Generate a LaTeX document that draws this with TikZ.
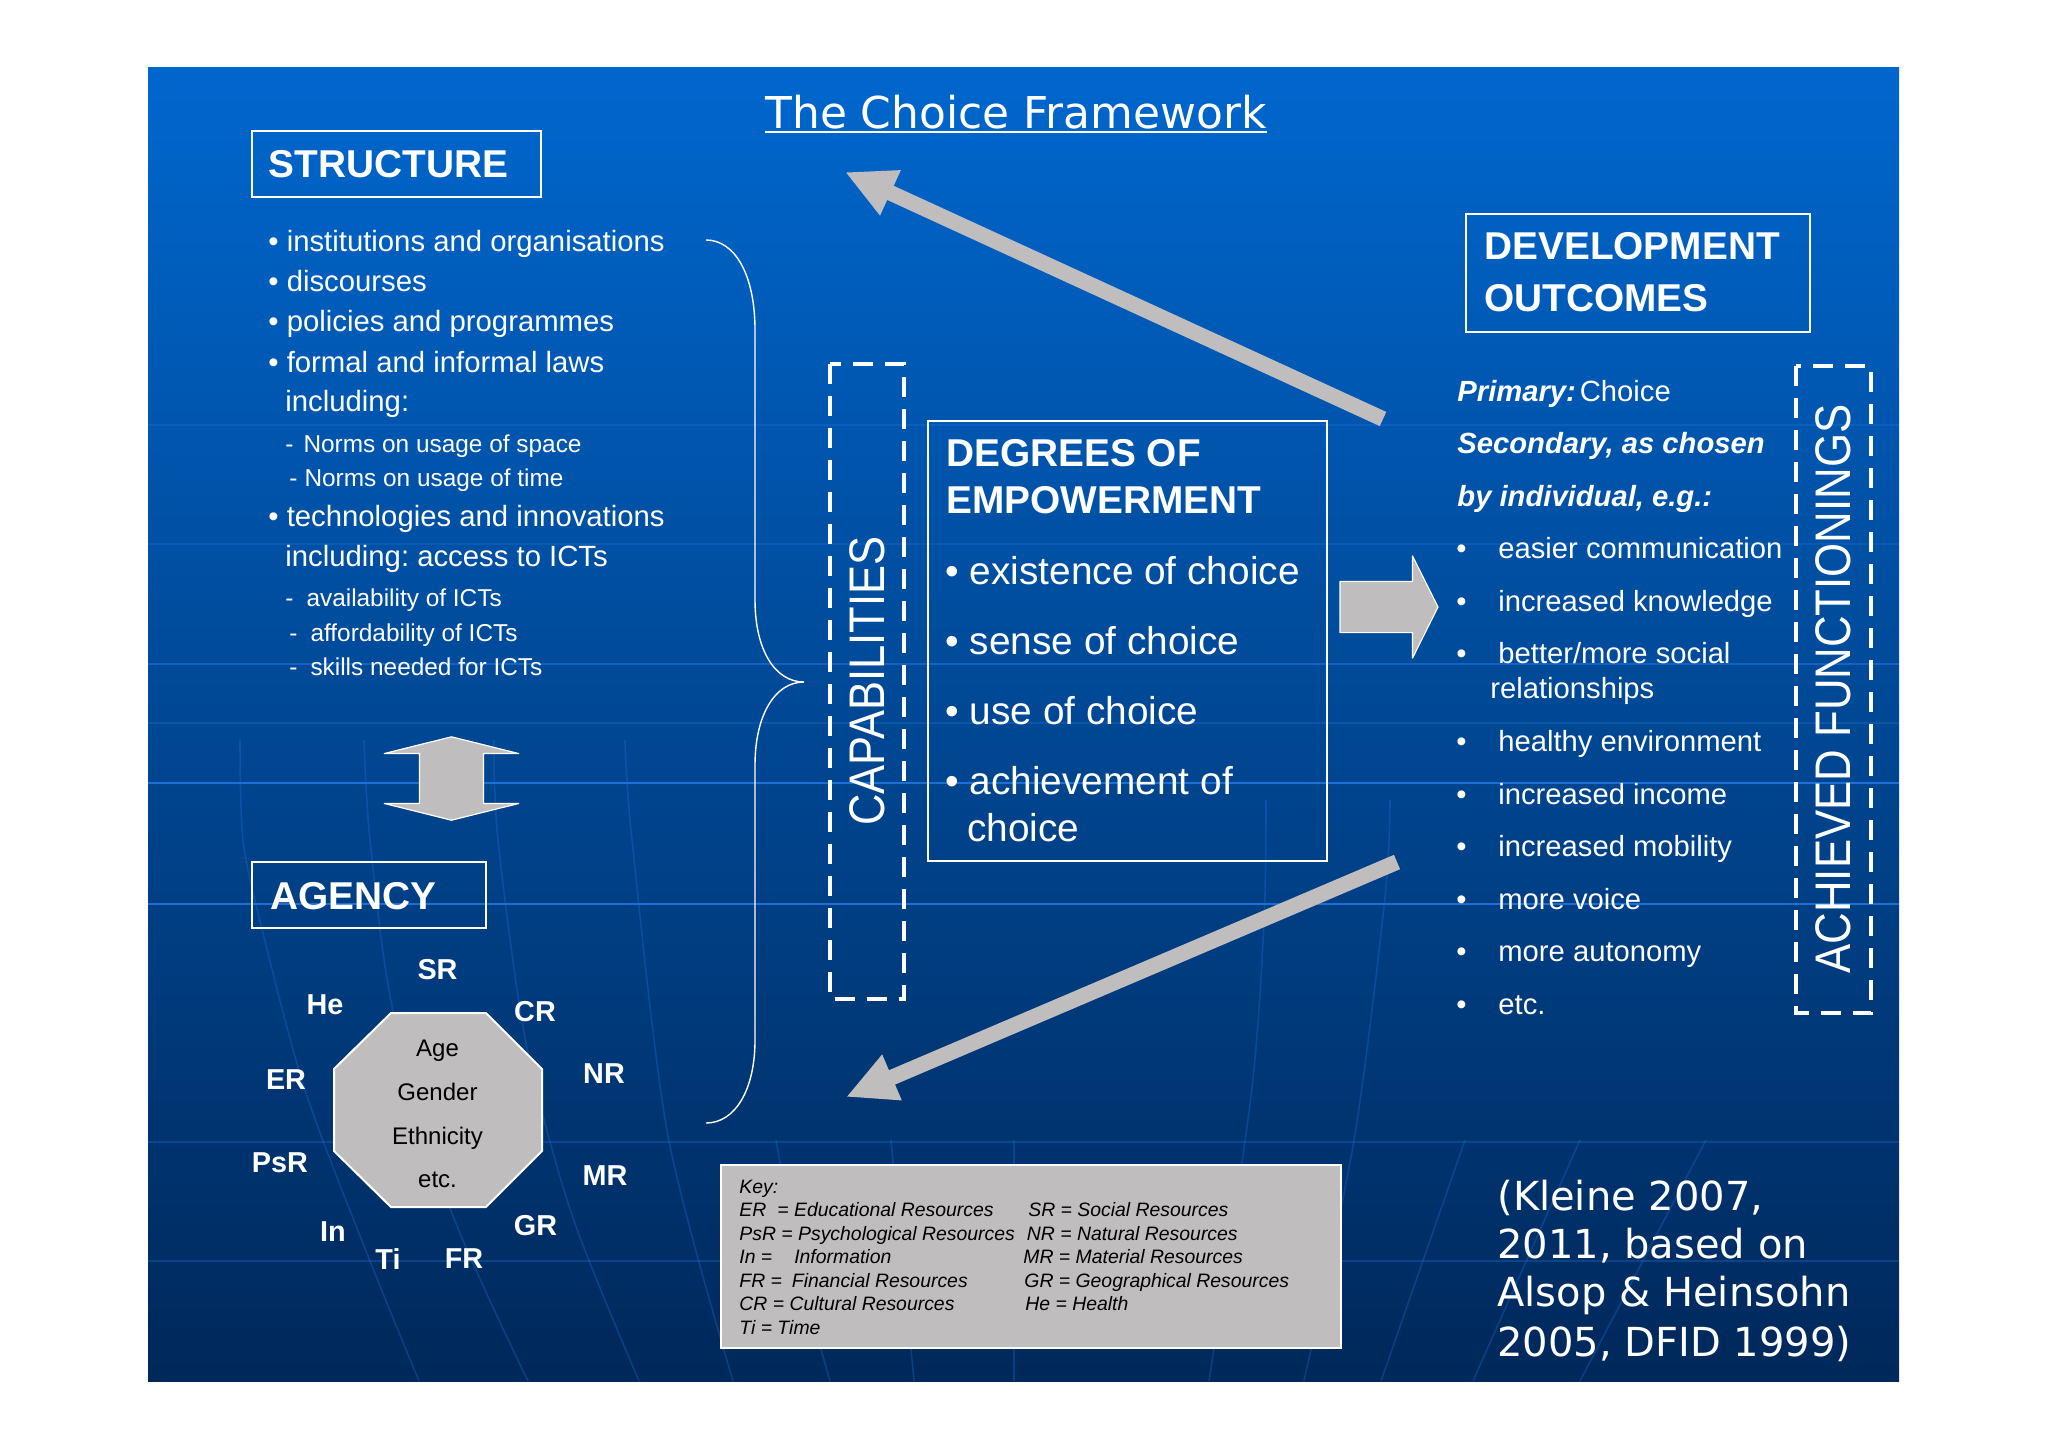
\documentclass[tikz,border=0pt]{standalone}
\usepackage{fontspec}
\setmainfont{Liberation Sans}
\newfontfamily\citefont{DejaVu Sans}
\usetikzlibrary{arrows.meta}
\usetikzlibrary{shapes.arrows}
\definecolor{panelgrey}{HTML}{BFBDBE}
\definecolor{paneltop}{HTML}{0067CE}
\definecolor{panelmid}{HTML}{00509F}
\definecolor{panelbottom}{HTML}{00285A}
\definecolor{gridblue}{HTML}{1F74E0}
\newcommand{\listbullet}{\makebox[21pt][l]{•}}
\frenchspacing

\begin{document}
\begin{tikzpicture}[x=0.5pt,y=-0.5pt]
	%\draw[help lines] (0,0) grid (2048,1447);
	
	\tikzstyle{headbox} = [draw=white,line width=1pt,minimum width=0pt]
	\tikzstyle{headtext} = [anchor=base west,text=white,inner sep=0pt,font=\fontsize{19.4}{23}\selectfont\bfseries]
	\tikzstyle{itemtext} = [anchor=base west,text=white,inner sep=0pt,font=\fontsize{14.65}{18}\selectfont]
	\tikzstyle{subtext} = [anchor=base west,text=white,inner sep=0pt,font=\fontsize{12.2}{15}\selectfont]
	\tikzstyle{degreetext} = [anchor=base west,text=white,inner sep=0pt,font=\fontsize{19.4}{23}\selectfont]
	\tikzstyle{resulttext} = [anchor=base west,text=white,inner sep=0pt,font=\fontsize{14.6}{18}\selectfont]
	\tikzstyle{resourcetext} = [text=white,inner sep=0pt,font=\fontsize{14.4}{17}\selectfont\bfseries]
	\tikzstyle{keytext} = [anchor=base west,text=black,inner sep=0pt,font=\fontsize{9.7}{12}\selectfont\itshape]
	\tikzstyle{sidetext} = [rotate=90,text=white,inner sep=0pt,font=\fontsize{25}{30}\selectfont]
	\tikzstyle{dashbox} = [draw=white,line width=2pt,dash pattern=on 10pt off 6pt]
	\tikzstyle{greyedge} = [draw=panelgrey,line width=7.8pt,-{Triangle[length=25pt,width=23pt]}]
	\tikzstyle{gridline} = [gridblue,line width=0.8pt,opacity=0.3]
	\tikzstyle{brightline} = [gridblue,line width=1.4pt,opacity=0.9]
	
	\useasboundingbox[fill=white] (0,0) rectangle (2048,1447);
	\shade[top color=paneltop,middle color=panelmid,bottom color=panelbottom] (148,67) rectangle (1899,1381);
	
	% lines of the backdrop
	\draw[gridline] (148,425) -- (1899,425);
	\draw[gridline] (148,544) -- (1899,544);
	\draw[gridline] (148,723) -- (1899,723);
	\draw[gridline] (148,1142) -- (1899,1142);
	\draw[gridline] (148,1261) -- (1899,1261);
	\draw[gridline,opacity=0.6] (148,664) -- (1899,664);
	\draw[brightline] (148,783) -- (1899,783);
	\draw[brightline] (148,904) -- (1899,904);
	\draw[gridline] plot[smooth] coordinates {(240,740) (243,840) (262,929) (305,1090) (366,1251) (419,1381)};
	\draw[gridline] plot[smooth] coordinates {(364,740) (370,840) (393,1011) (450,1208) (528,1381)};
	\draw[gridline] plot[smooth] coordinates {(494,740) (498,840) (526,1043) (572,1215) (639,1381)};
	\draw[gridline] plot[smooth] coordinates {(625,740) (632,840) (668,1136) (733,1381)};
	\draw[gridline] plot[smooth] coordinates {(776,1140) (800,1270) (830,1381)};
	\draw[gridline] plot[smooth] coordinates {(891,1140) (914,1381)};
	\draw[gridline] plot[smooth] coordinates {(1014,1140) (1014,1381)};
	\draw[gridline] plot[smooth] coordinates {(1266,800) (1264,922) (1251,1096) (1209,1381)};
	\draw[gridline] plot[smooth] coordinates {(1390,800) (1385,897) (1354,1140) (1304,1381)};
	\draw[gridline] plot[smooth] coordinates {(1465,1140) (1381,1381)};
	\draw[gridline] plot[smooth] coordinates {(1580,1140) (1473,1381)};
	\draw[gridline] plot[smooth] coordinates {(1706,1140) (1580,1381)};
	
	% title
	\node[anchor=base west,text=white,inner sep=0pt,font=\fontsize{21.95}{26}\selectfont\citefont] (title) at (765,128) {The Choice Framework};
	\draw[white,line width=1pt] ([yshift=-2.2pt]title.base west) -- ([yshift=-2.2pt]title.base east);
	
	% structure
	\draw[headbox] (252,131) rectangle (541,197);
	\node[headtext] (structure) at (268.5,177) {STRUCTURE};
	\node[itemtext] (item1) at (268,251) {• institutions and organisations};
	\node[itemtext] (item2) at (268,291.5) {• discourses};
	\node[itemtext] (item3) at (268,331.5) {• policies and programmes};
	\node[itemtext] (item4) at (268,372) {• formal and informal laws};
	\node[itemtext] (item5) at (285,411) {including:};
	\node[subtext] (norm1) at (285,452) {-\hspace{5pt}Norms on usage of space};
	\node[subtext] (norm2) at (289,486.5) {-\hspace{3.5pt}Norms on usage of time};
	\node[itemtext] (item6) at (268,526) {• technologies and innovations};
	\node[itemtext] (item7) at (285,566.5) {including: access to ICTs};
	\node[subtext] (ict1) at (285,606.5) {-\hspace{6.5pt}availability of ICTs};
	\node[subtext] (ict2) at (289,641) {-\hspace{6.5pt}affordability of ICTs};
	\node[subtext] (ict3) at (289,675) {-\hspace{6.5pt}skills needed for ICTs};
	
	\node[double arrow,rotate=90,draw=white,line width=0.6pt,line join=round,fill=panelgrey,inner xsep=0pt,inner ysep=15.7pt,minimum height=41.7pt,minimum width=66.5pt,double arrow head extend=17.6pt,double arrow tip angle=152] (linkarrow) at (451.5,778.5) {};
	
	% agency
	\draw[headbox] (252,862) rectangle (486,928);
	\node[headtext] (agency) at (270,909) {AGENCY};
	\node[resourcetext] (sr) at (437.5,970) {SR};
	\node[resourcetext] (he) at (325,1005) {He};
	\node[resourcetext] (cr) at (535,1012) {CR};
	\node[resourcetext] (nr) at (604,1074) {NR};
	\node[resourcetext] (er) at (286,1080) {ER};
	\node[resourcetext] (psr) at (280,1163) {PsR};
	\node[resourcetext] (mr) at (605,1176) {MR};
	\node[resourcetext] (gr) at (535.5,1226) {GR};
	\node[resourcetext] (in) at (333,1232) {In};
	\node[resourcetext] (ti) at (388,1259) {Ti};
	\node[resourcetext] (fr) at (464,1259) {FR};
	\draw[draw=white,line width=1pt,fill=panelgrey] (391,1013) -- (486,1013) -- (542,1069) -- (542,1151) -- (486,1207) -- (391,1207) -- (334,1151) -- (334,1069) -- cycle;
	\node[align=center,text=black,inner sep=0pt,font=\fontsize{12}{21.9}\selectfont] (profile) at (437.5,1114) {Age\\Gender\\Ethnicity\\etc.};
	
	% brace
	\draw[white,line width=0.7pt] (706,240) .. controls (735,240) and (755,275) .. (755,330) -- (755,600) .. controls (755,650) and (775,682) .. (804,682) .. controls (775,682) and (755,715) .. (755,765) -- (755,1040) .. controls (755,1090) and (735,1123) .. (706,1123);
	
	% capabilities
	\draw[dashbox] (829.5,364) rectangle (904,999);
	\node[sidetext] (capabilities) at (867,681) {\scalebox{0.87}[1]{CAPABILITIES}};
	\draw[headbox] (927.5,420.5) rectangle (1327,861);
	\node[headtext] (degrees) at (946,466) {DEGREES OF};
	\node[headtext] (empower) at (946,513) {EMPOWERMENT};
	\node[degreetext] (choice1) at (945,584) {• existence of choice};
	\node[degreetext] (choice2) at (945,654) {• sense of choice};
	\node[degreetext] (choice3) at (945,724) {• use of choice};
	\node[degreetext] (choice4) at (945,794) {• achievement of};
	\node[degreetext] (choice5) at (967,841) {choice};
	
	\node[single arrow,draw=white,line width=0.6pt,line join=round,fill=panelgrey,inner xsep=0pt,inner ysep=12.5pt,minimum height=49pt,minimum width=50pt,single arrow head extend=12.7pt,single arrow tip angle=127] (resultarrow) at (1389,607) [xshift=-3.2pt] {};
	
	% outcomes
	\draw[headbox] (1465.5,213.5) rectangle (1810,332);
	\node[headtext] (development) at (1484,259) {DEVELOPMENT};
	\node[headtext] (outcomes) at (1484,311) {OUTCOMES};
	\node[resulttext] (primary) at (1457,401) {\bfseries\itshape Primary:\hspace{2pt}\normalfont Choice};
	\node[resulttext] (secondary) at (1457,453) {\bfseries\itshape Secondary, as chosen};
	\node[resulttext] (individual) at (1457,506) {\bfseries\itshape by individual, e.g.:};
	\node[resulttext] (result1) at (1456,558.5) {\listbullet easier communication};
	\node[resulttext] (result2) at (1456,611) {\listbullet increased knowledge};
	\node[resulttext] (result3) at (1456,663) {\listbullet better/more social};
	\node[resulttext] (result4) at (1490,698) {relationships};
	\node[resulttext] (result5) at (1456,751.5) {\listbullet healthy environment};
	\node[resulttext] (result6) at (1456,804) {\listbullet increased income};
	\node[resulttext] (result7) at (1456,856) {\listbullet increased mobility};
	\node[resulttext] (result8) at (1456,909.5) {\listbullet more voice};
	\node[resulttext] (result9) at (1456,961.5) {\listbullet more autonomy};
	\node[resulttext] (result10) at (1456,1014) {\listbullet etc.};
	\draw[dashbox] (1796,365.5) rectangle (1871,1013);
	\node[sidetext] (functionings) at (1833,689) {\scalebox{0.875}[1]{ACHIEVED FUNCTIONINGS}};
	
	% big arrows
	\coordinate (outtop) at (1383,419);
	\coordinate (structtop) at (845,172);
	\coordinate (outbottom) at (1397,862);
	\coordinate (structbottom) at (846,1097);
	\draw[greyedge] (outtop) -- (structtop);
	\draw[greyedge] (outbottom) -- (structbottom);
	
	% key
	\draw[draw=white,line width=1pt,fill=panelgrey] (721,1165) rectangle (1341,1348);
	\node[keytext] (key) at (739,1193) {Key:};
	\node[keytext] (keyer) at (739,1216) {ER\hspace{5.5pt}= Educational Resources};
	\node[keytext] (keypsr) at (739,1240) {PsR = Psychological Resources};
	\node[keytext] (keyin) at (739,1263) {In =\hspace{11pt}Information};
	\node[keytext] (keyfr) at (739,1287) {FR =\hspace{5pt}Financial Resources};
	\node[keytext] (keycr) at (739,1310) {CR = Cultural Resources};
	\node[keytext] (keyti) at (739,1334) {Ti = Time};
	\node[keytext] (keysr) at (1028,1216) {SR = Social Resources};
	\node[keytext] (keynr) at (1026.5,1240) {NR = Natural Resources};
	\node[keytext] (keymr) at (1023,1263) {MR = Material Resources};
	\node[keytext] (keygr) at (1024,1287) {GR = Geographical Resources};
	\node[keytext] (keyhe) at (1025,1310) {He = Health};
	
	% source
	\node[anchor=north west,align=left,text=white,inner sep=0pt,font=\fontsize{20}{23.8}\selectfont\citefont] (source) at (1497,1180) {(Kleine 2007,\\2011, based on\\Alsop \& Heinsohn\\[1.6pt]2005, DFID 1999)};

\end{tikzpicture}
\end{document}
